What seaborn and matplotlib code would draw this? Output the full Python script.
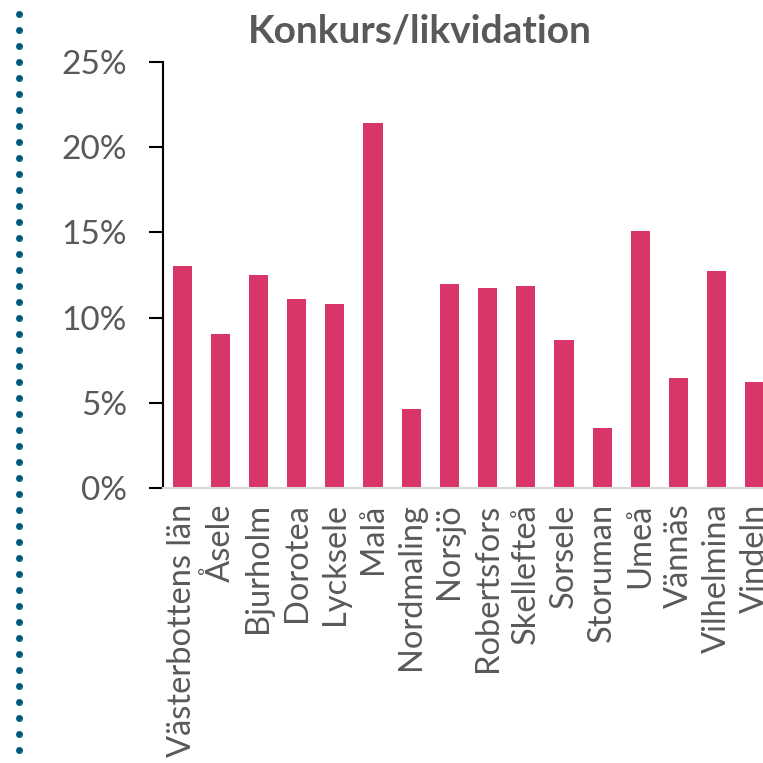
import matplotlib
matplotlib.use("Agg")
import matplotlib.pyplot as plt
from matplotlib.lines import Line2D
import seaborn as sns
import pandas as pd
import numpy as np

categories = ["Västerbottens län", "Åsele", "Bjurholm", "Dorotea", "Lycksele", "Malå",
              "Nordmaling", "Norsjö", "Robertsfors", "Skellefteå", "Sorsele", "Storuman",
              "Umeå", "Vännäs", "Vilhelmina", "Vindeln"]
values = [13.0, 9.06, 12.49, 11.08, 10.78, 21.41, 4.62, 12.0, 11.72, 11.88, 8.69, 3.50,
          15.11, 6.44, 12.74, 6.24]
yticks = [0, 5, 10, 15, 20, 25]
ytick_labels = ["0%", "5%", "10%", "15%", "20%", "25%"]
title = "Konkurs/likvidation"

sns.set_style("white")
plt.rcParams['font.family'] = ['Lato', 'DejaVu Sans']

W = H = 763
fig = plt.figure(figsize=(7.63, 7.63), dpi=100)
# axes: left 163px, bottom 488px, top 62px, right ~774px (cropped by figure)
left, right, top, bottom = 163, 774, 62, 488
ax = fig.add_axes([left / W, 1 - bottom / H, (right - left) / W, (bottom - top) / H])

df = pd.DataFrame({"kommun": categories, "andel": values})
sns.barplot(data=df, x="kommun", y="andel", color="#D83668", saturation=1,
            width=0.5, ax=ax, edgecolor="none")

ax.set_xlim(-0.5, len(categories) - 0.5)
ax.set_ylim(0, 25)
ax.set_yticks(yticks)
ax.set_yticklabels(ytick_labels)
ax.set_xlabel("")
ax.set_ylabel("")

txtc = "#595959"
ax.tick_params(axis="y", direction="out", length=10, width=1.5, color="black",
               labelsize=24, labelcolor=txtc, pad=16, left=True)
ax.tick_params(axis="x", length=0, labelsize=23.5, labelcolor=txtc, pad=11, rotation=90)
for lab in ax.get_yticklabels() + ax.get_xticklabels():
    lab.set_fontweight("normal")
for lab in ax.get_xticklabels():
    lab.set_verticalalignment("top")
    lab.set_horizontalalignment("center")

for s in ["top", "right"]:
    ax.spines[s].set_visible(False)
ax.spines["left"].set_color("black")
ax.spines["left"].set_linewidth(1.5)
ax.spines["bottom"].set_color("#d9d9d9")
ax.spines["bottom"].set_linewidth(1.5)
ax.grid(False)

fig.text(420 / W, 1 - 43 / H, title, ha="center", va="baseline", fontsize=28,
         fontweight="bold", color=txtc)

# decorative dotted line at left
ys = np.arange(14, 752, 16)
fig.add_artist(Line2D(np.full(len(ys), 19 / W), 1 - ys / H, transform=fig.transFigure,
                      marker="o", markersize=5, linestyle="none", color="#005A80",
                      markeredgewidth=0))

fig.savefig("out.png", dpi=100)
